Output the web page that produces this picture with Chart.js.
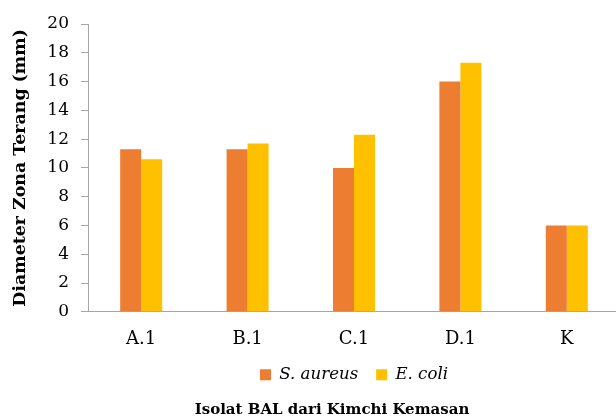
<!DOCTYPE html>
<html><head><meta charset="utf-8">
<script src="https://cdn.jsdelivr.net/npm/chart.js@4"></script>
<style>html,body{margin:0;padding:0;background:#fff;overflow:hidden}#wrap{position:relative;width:664px;height:419px}</style>
</head><body><div id="wrap"><canvas id="c"></canvas></div>
<script>
const categories = ['A.1', 'B.1', 'C.1', 'D.1', 'K'];
const sAureus = [11.3, 11.3, 10.0, 16.0, 6.0];
const eColi = [10.6, 11.7, 12.3, 17.3, 6.0];
const yTickValues = [0, 2, 4, 6, 8, 10, 12, 14, 16, 18, 20];
const seriesNames = ['S. aureus', 'E. coli'];

const FAM = '"DejaVu Serif", serif';
const AXIS = '#a6a6a6';

new Chart(document.getElementById('c'), {
  type: 'bar',
  data: {
    labels: categories,
    datasets: [
      { label: seriesNames[0], data: sAureus, backgroundColor: '#ED7D31', categoryPercentage: 0.395, barPercentage: 1 },
      { label: seriesNames[1], data: eColi, backgroundColor: '#FFC000', categoryPercentage: 0.395, barPercentage: 1 }
    ]
  },
  options: {
    responsive: true, maintainAspectRatio: false, animation: false,
    layout: { padding: { top: 24, left: 0, right: 0, bottom: 0 } },
    scales: {
      x: {
        grid: { display: false, drawTicks: false },
        border: { color: AXIS, width: 1 },
        afterFit: s => { s.height = 36.6; },
        ticks: { color: '#000', padding: 17, font: { family: FAM, size: 18 } }
      },
      y: {
        min: 0, max: 20,
        afterBuildTicks: s => { s.ticks = yTickValues.map(v => ({ value: v })); },
        afterFit: s => { s.width = 88; },
        grid: { drawOnChartArea: false, drawTicks: true, tickLength: 7, color: AXIS },
        border: { color: AXIS, width: 1 },
        ticks: { color: '#000', padding: 12, font: { family: FAM, size: 17 } },
        title: { display: true, text: 'Diameter Zona Terang (mm)', color: '#000', font: { family: FAM, size: 17.4, weight: 'bold' }, padding: { top: 10.5, bottom: 0 } }
      },
      yR: {
        position: 'right', display: true,
        afterFit: s => { s.width = 44; },
        grid: { display: false }, border: { display: false }, ticks: { display: false }
      }
    },
    plugins: {
      legend: {
        position: 'bottom', fullSize: false,
        labels: { boxWidth: 11, boxHeight: 11, padding: 18, color: '#000', font: { family: FAM, size: 16.6, style: 'italic' } }
      },
      title: {
        display: true, position: 'bottom', text: 'Isolat BAL dari Kimchi Kemasan', color: '#000',
        font: { family: FAM, size: 15, weight: 'bold' }, padding: { top: 8, bottom: 0 }
      },
      tooltip: { enabled: false }
    }
  }
});
</script>
</body></html>
